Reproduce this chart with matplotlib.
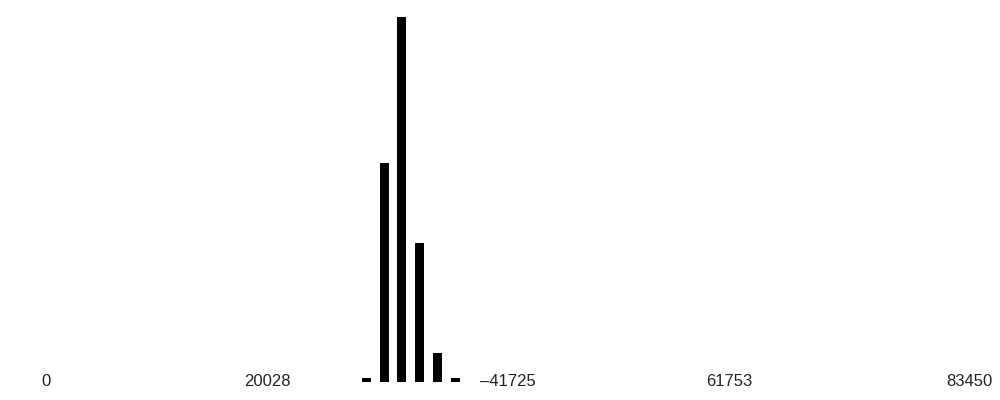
import matplotlib
matplotlib.use("Agg")
import matplotlib.pyplot as plt

# histogram bins (centre of each bin) and counts
bin_centers = [28930, 30545, 32160, 33775, 35390, 37005]
counts = [1, 60, 100, 38, 8, 1]

tick_values = [0, 20028, 41725, 61753, 83450]
tick_labels = ["0", "20028", "\u201341725", "61753", "83450"]

plt.rcParams['font.family'] = ['Liberation Sans', 'DejaVu Sans']

fig = plt.figure(figsize=(10, 4), dpi=100)
ax = fig.add_axes([0, 0, 1, 1])

ax.bar(bin_centers, counts, width=813, color="black", linewidth=0)

for v, lab in zip(tick_values, tick_labels):
    ax.text(v, 0, lab, ha="center", va="center", fontsize=12, color="#222222")

ax.set_xlim(-4166, 86218)
ax.set_ylim(-5.02, 104.66)
ax.axis("off")

fig.savefig("out.png", dpi=100)
